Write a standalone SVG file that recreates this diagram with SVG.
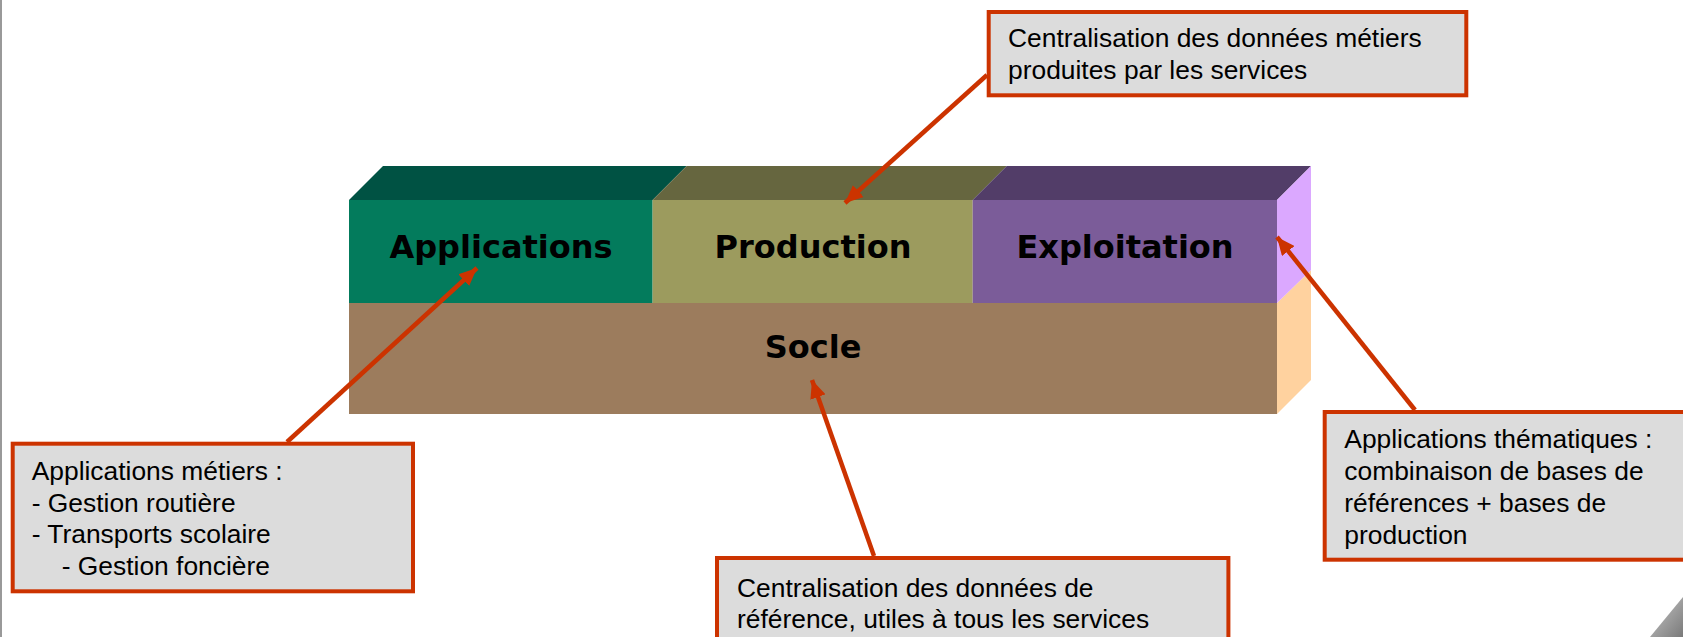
<svg xmlns="http://www.w3.org/2000/svg" width="1683" height="637" viewBox="0 0 1683 637">
<style>
.lbl{font-family:"DejaVu Sans",Verdana,sans-serif;font-weight:bold;font-size:32px;fill:#000;text-anchor:middle}
.note{fill:#DCDCDC;stroke:#CC3300;stroke-width:4}
.nt{font-family:"Liberation Sans",Arial,sans-serif;font-size:26.4px;fill:#000}
.conn{stroke:#CC3300;stroke-width:4.5;fill:none}
</style>
<defs>
<marker id="ah" markerUnits="userSpaceOnUse" markerWidth="20" markerHeight="16" refX="18" refY="8" orient="auto">
<path d="M0,0 L18,8 L0,16 z" fill="#CC3300"/>
</marker>
<linearGradient id="curl" x1="0" y1="0" x2="1" y2="1">
<stop offset="0" stop-color="#c8c8c8"/>
<stop offset="1" stop-color="#7a7a7a"/>
</linearGradient>
</defs>
<rect width="1683" height="637" fill="#fff"/>
<line x1="1" y1="0" x2="1" y2="637" stroke="#999" stroke-width="2"/>
<polygon points="1650,637 1683,637 1683,597" fill="url(#curl)"/>

<g id="socle">
<rect x="349" y="303" width="928" height="111" fill="#9C7C5D"/>
<polygon points="1277,303 1311,270 1311,380 1277,414" fill="#FFD29F"/>
<text class="lbl" x="813" y="358">Socle</text>
</g>
<g id="applications">
<polygon points="349,200 652.6,200 686.6,166 383,166" fill="#005243"/>
<rect x="349" y="200" width="303.6" height="103" fill="#037B5C"/>
<text class="lbl" x="501" y="258">Applications</text>
</g>
<g id="production">
<polygon points="652.6,200 972.7,200 1006.7,166 686.6,166" fill="#66663F"/>
<rect x="652.6" y="200" width="320.1" height="103" fill="#9C9B5E"/>
<text class="lbl" x="813" y="258">Production</text>
</g>
<g id="exploitation">
<polygon points="972.7,200 1277,200 1311,166 1006.7,166" fill="#523D68"/>
<rect x="972.7" y="200" width="304.3" height="103" fill="#7B5C99"/>
<polygon points="1277,200 1311,166 1311,270 1277,303" fill="#DBA8FF"/>
<text class="lbl" x="1125" y="258">Exploitation</text>
</g>

<g id="note-production">
<rect class="note" x="988.7" y="12" width="477.6" height="83.3"/>
<text class="nt" x="1008" y="47">Centralisation des données métiers</text>
<text class="nt" x="1008" y="79">produites par les services</text>
</g>
<g id="note-applications">
<rect class="note" x="12.7" y="443.7" width="400.3" height="147.6"/>
<text class="nt" x="31.7" y="480">Applications métiers :</text>
<text class="nt" x="31.7" y="511.7">- Gestion routière</text>
<text class="nt" x="31.7" y="543.3">- Transports scolaire</text>
<text class="nt" x="61.7" y="575">- Gestion foncière</text>
</g>
<g id="note-socle">
<rect class="note" x="717" y="558" width="511.4" height="100"/>
<text class="nt" x="737" y="597">Centralisation des données de</text>
<text class="nt" x="737" y="628">référence, utiles à tous les services</text>
</g>
<g id="note-exploitation">
<rect class="note" x="1324.7" y="412" width="400" height="147.7"/>
<text class="nt" x="1344.3" y="448">Applications thématiques :</text>
<text class="nt" x="1344.3" y="480">combinaison de bases de</text>
<text class="nt" x="1344.3" y="512">références + bases de</text>
<text class="nt" x="1344.3" y="544">production</text>
</g>

<g id="connectors">
<line class="conn" x1="987" y1="75" x2="845" y2="203" marker-end="url(#ah)"/>
<line class="conn" x1="287" y1="442" x2="477" y2="268" marker-end="url(#ah)"/>
<line class="conn" x1="874" y1="556" x2="812" y2="380" marker-end="url(#ah)"/>
<line class="conn" x1="1415" y1="410" x2="1277" y2="237" marker-end="url(#ah)"/>
</g>
</svg>
